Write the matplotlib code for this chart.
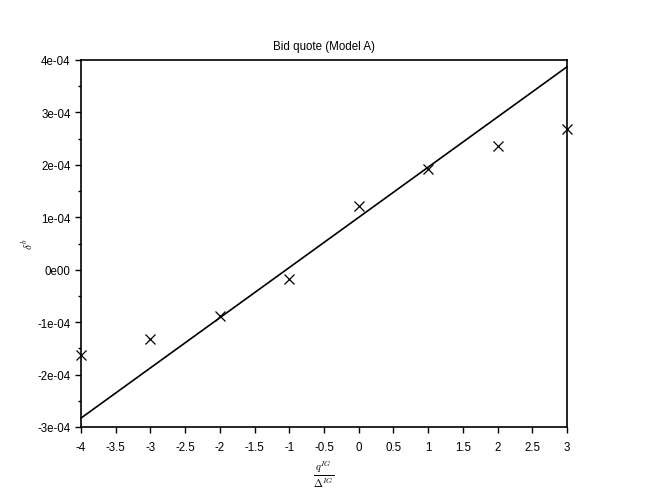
import numpy as np
import matplotlib.pyplot as plt
from matplotlib.ticker import MultipleLocator, FuncFormatter

plt.rcParams['font.family'] = ['Liberation Sans', 'DejaVu Sans']
plt.rcParams['mathtext.fontset'] = 'cm'

# dados
q = [-4, -3, -2, -1, 0, 1, 2, 3]
delta_b = [-1.63e-4, -1.32e-4, -0.88e-4, -0.18e-4, 1.21e-4, 1.92e-4, 2.36e-4, 2.68e-4]
linha_x = [-4, 3]
linha_y = [-2.83e-4, 3.87e-4]

fig = plt.figure(figsize=(6.48, 4.89), dpi=100)
ax = fig.add_axes([81/648, 1-428/489, (567-81)/648, (428-61)/489])

ax.plot(linha_x, linha_y, color='black', linewidth=1.2, clip_on=False)
ax.plot(q, delta_b, linestyle='', marker='x', color='black',
        markersize=7, markeredgewidth=0.9, clip_on=False)

ax.set_xlim(-4, 3)
ax.set_ylim(-3e-4, 4e-4)
ax.xaxis.set_major_locator(MultipleLocator(0.5))
ax.yaxis.set_major_locator(MultipleLocator(1e-4))
ax.yaxis.set_minor_locator(MultipleLocator(0.5e-4))

def fmt_x(v, pos):
    return '%g' % v

def fmt_y(v, pos):
    if abs(v) < 1e-12:
        return '0e00'
    m, e = ('%.0e' % v).split('e')
    return '%se%s%02d' % (m, e[0], abs(int(e)))

ax.xaxis.set_major_formatter(FuncFormatter(fmt_x))
ax.yaxis.set_major_formatter(FuncFormatter(fmt_y))
ax.tick_params(direction='out', length=4, width=1, labelsize=8.3, colors='black')
ax.tick_params(axis='x', pad=6)
ax.tick_params(which='minor', direction='out', length=2, width=1)
for s in ax.spines.values():
    s.set_linewidth(1.2)

ax.set_title('Bid quote (Model A)', fontsize=8.3, pad=8)
ax.set_xlabel(r'$\frac{q^{IG}}{\Delta^{IG}}$', fontsize=11)
ax.xaxis.set_label_coords(0.5, -(459-428)/367)
ax.set_ylabel(r'$\delta^b$', fontsize=8)
ax.yaxis.set_label_coords(-(81-35)/486, (428-244)/367)

plt.savefig('out.png', dpi=100)
